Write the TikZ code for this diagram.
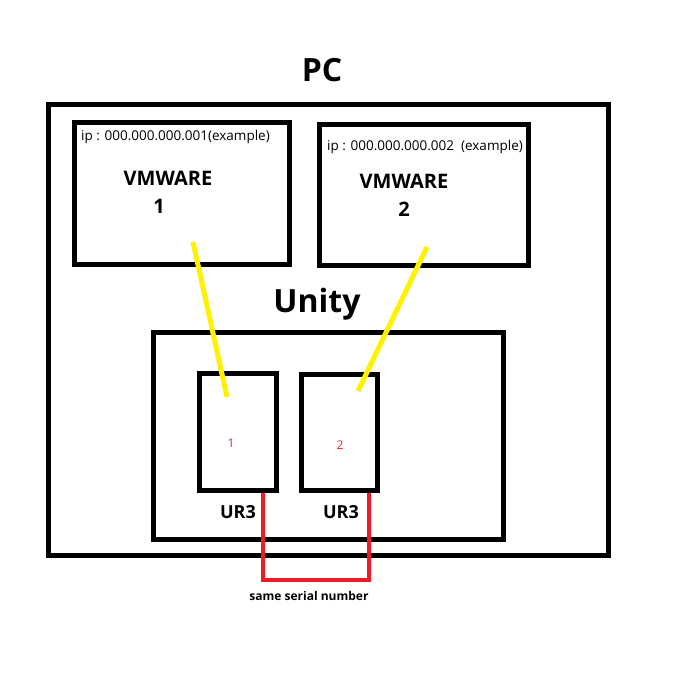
\documentclass[tikz,border=0pt]{standalone}
\usepackage{fontspec}
\setmainfont{Open Sans}
\usepackage{tikz}
\usetikzlibrary{calc}
\definecolor{paintred}{HTML}{ED1C24}
\definecolor{paintyellow}{HTML}{FFF200}
\tikzset{box/.style = {draw, line width=5pt, inner sep=0pt},
         title/.style = {font=\fontsize{32}{36}\selectfont\bfseries},
         vmlabel/.style = {font=\fontsize{20}{24}\selectfont\bfseries},
         iplabel/.style = {font=\fontsize{13.5}{16}\selectfont, anchor=west, inner sep=0pt},
         wire/.style = {paintyellow, line width=5pt},
         serialwire/.style = {paintred, line width=4pt}}

\begin{document}
\begin{tikzpicture}[x=1pt, y=-1pt]
\useasboundingbox (0,0) rectangle (696,678);
% boxes
\node[box, minimum width=560pt, minimum height=451pt] (pc) at (328,329.5) {};
\node[box, minimum width=215pt, minimum height=142pt] (vm1) at (181.5,193) {};
\node[box, minimum width=209pt, minimum height=141pt] (vm2) at (423.5,194.5) {};
\node[box, minimum width=350pt, minimum height=207pt] (unity) at (328,435.5) {};
\node[box, minimum width=77pt, minimum height=117pt] (ur1) at (237.5,431.5) {};
\node[box, minimum width=76pt, minimum height=116pt] (ur2) at (339,432) {};
% labels
\node[title] (pclabel) at (322,70) {PC};
\node[title] (unitylabel) at (317,304) {Unity};
\node[iplabel] (ip1) at (81,137) {ip : 000.000.000.001(example)};
\node[iplabel] (ip2) at (327,147) {ip : 000.000.000.002\ \ (example)};
\node[vmlabel] (vmname1) at (168,178) {VMWARE};
\node[vmlabel] (vmnum1) at (159,206) {1};
\node[vmlabel] (vmname2) at (404,181) {VMWARE};
\node[vmlabel] (vmnum2) at (404,209) {2};
\node[font=\fontsize{12}{14}\selectfont, paintred] (urnum1) at (231,443) {1};
\node[font=\fontsize{12}{14}\selectfont, paintred] (urnum2) at (340,445) {2};
\node[font=\fontsize{18}{22}\selectfont\bfseries] (urname1) at (238,512) {UR3};
\node[font=\fontsize{18}{22}\selectfont\bfseries] (urname2) at (341,512) {UR3};
% links
\coordinate (vmend1) at (193,242);
\coordinate (urend1) at (227,397);
\coordinate (vmend2) at (427,247);
\coordinate (urend2) at (358,391);
\draw[wire] (vmend1) -- (urend1);
\draw[wire] (vmend2) -- (urend2);
\coordinate (ser1) at ([xshift=-16pt]ur1.south east);
\coordinate (ser2) at ([xshift=-11pt]ur2.south east);
\draw[serialwire] (ser1) -- ++(0,87) -| (ser2);
\node[font=\fontsize{12}{14}\selectfont\bfseries] (serial) at (309,596) {same serial number};
\end{tikzpicture}
\end{document}
